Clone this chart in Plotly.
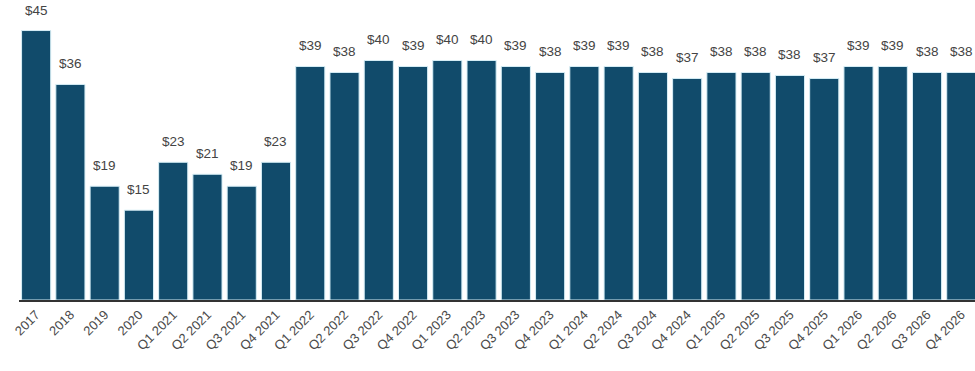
import plotly.graph_objects as go

categories = ["2017", "2018", "2019", "2020",
              "Q1 2021", "Q2 2021", "Q3 2021", "Q4 2021",
              "Q1 2022", "Q2 2022", "Q3 2022", "Q4 2022",
              "Q1 2023", "Q2 2023", "Q3 2023", "Q4 2023",
              "Q1 2024", "Q2 2024", "Q3 2024", "Q4 2024",
              "Q1 2025", "Q2 2025", "Q3 2025", "Q4 2025",
              "Q1 2026", "Q2 2026", "Q3 2026", "Q4 2026"]
values = [45, 36, 19, 15,
          23, 21, 19, 23,
          39, 38, 40, 39,
          40, 40, 39, 38,
          39, 39, 38, 37,
          38, 38, 37.5, 37,
          39, 39, 38, 38]
labels = ["$" + str(round(v + 0.001)) for v in values]

FONT = "Liberation Sans, Arial, sans-serif"

fig = go.Figure(go.Bar(
    x=categories,
    y=values,
    marker=dict(color="#114b6b", line=dict(color="#d6eef6", width=1)),
    hoverinfo="skip",
))

# value labels placed above each bar (x given as category index)
for i, (v, t) in enumerate(zip(values, labels)):
    fig.add_annotation(
        x=i, y=v, xref="x", yref="y", text=t, showarrow=False,
        yanchor="bottom", yshift=11,
        font=dict(family=FONT, size=13.5, color="#444444"),
    )

fig.update_layout(
    width=975, height=371,
    margin=dict(l=19, r=0, t=0, b=71),
    paper_bgcolor="white",
    plot_bgcolor="white",
    bargap=0.15,
    showlegend=False,
    font=dict(family=FONT, color="#444444"),
)
fig.update_xaxes(
    type="category",
    range=[-0.5, 27.4],
    tickangle=-45,
    tickfont=dict(size=13, color="#4a4a4a"),
    showline=True, linecolor="#333333", linewidth=2,
    showgrid=False, ticks="",
)
fig.update_yaxes(
    range=[0, 50.1],
    visible=False,
    showgrid=False,
)

fig.write_html(
    "out.html",
    config={"displayModeBar": False},
    post_script="document.body.style.margin='0';document.body.style.overflow='hidden';",
)
